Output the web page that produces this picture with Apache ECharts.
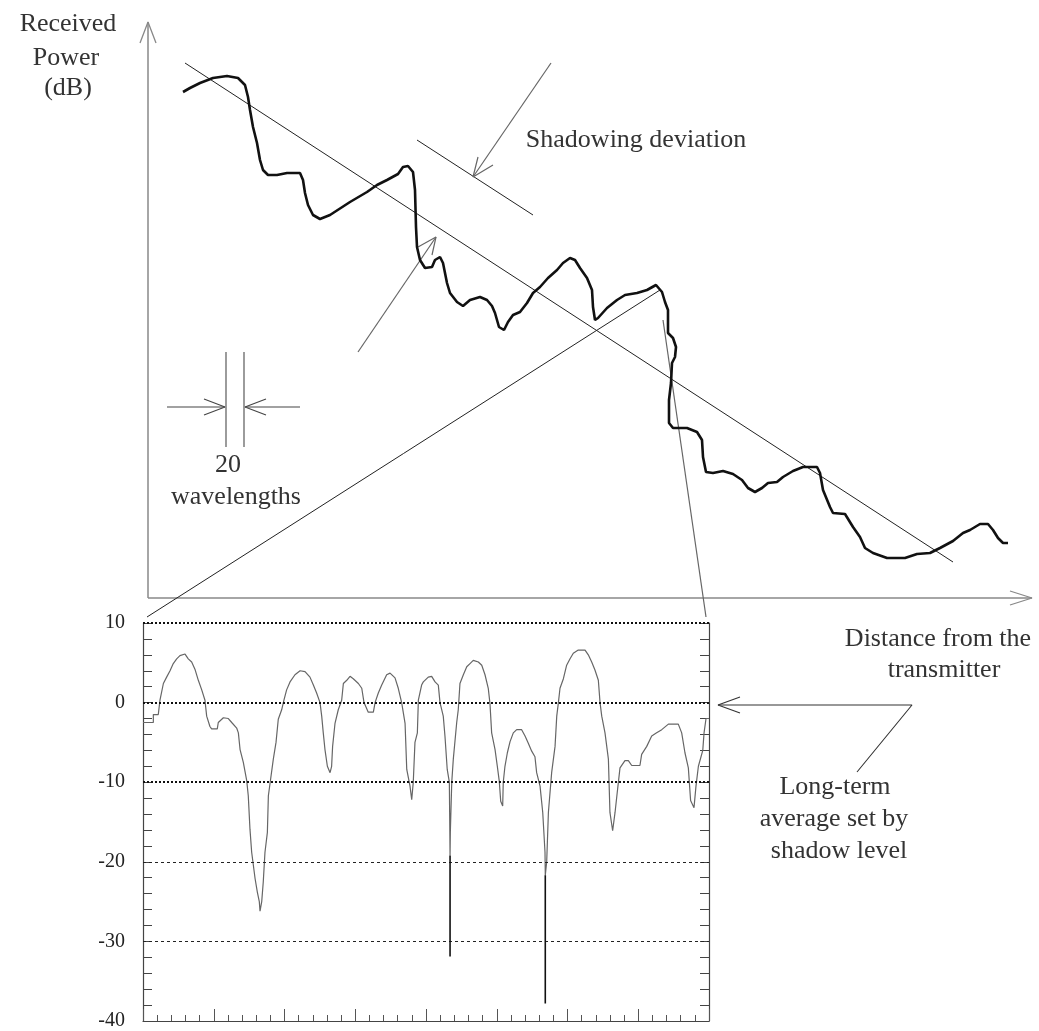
<!DOCTYPE html>
<html>
<head>
<meta charset="utf-8">
<script src="https://cdn.jsdelivr.net/npm/echarts@6/dist/echarts.min.js"></script>
<style>html,body{margin:0;padding:0;background:#fff}#c{width:1039px;height:1031px}</style>
</head>
<body>
<div id="c"></div>
<script>
// ---------- DATA ----------
// Upper sketch: distance (arbitrary units) vs received power (arbitrary dB units)
const upperCurve = [[3.5,50.6],[4.2,51.0],[5.2,51.5],[6.5,52.0],[7.9,52.2],[9.0,52.0],[9.7,51.3],[10.0,50.1],[10.2,48.8],[10.5,47.1],[10.9,45.5],[11.2,43.8],[11.5,42.8],[12.0,42.3],[12.9,42.3],[13.9,42.5],[15.2,42.5],[15.5,41.8],[15.7,40.5],[16.0,39.3],[16.5,38.3],[17.2,37.9],[18.2,38.3],[20.2,39.6],[21.9,40.6],[22.9,41.3],[23.9,41.8],[25.0,42.4],[25.5,43.1],[26.0,43.2],[26.5,42.6],[26.7,40.8],[26.8,37.1],[26.9,35.1],[27.2,33.8],[27.7,33.0],[28.4,33.1],[28.7,33.8],[29.2,34.1],[29.5,33.5],[29.9,31.5],[30.2,30.5],[30.9,29.6],[31.5,29.2],[32.2,29.8],[33.2,30.1],[33.9,29.8],[34.4,29.2],[34.7,28.5],[35.1,27.1],[35.6,26.8],[36.0,27.6],[36.5,28.3],[37.2,28.6],[37.9,29.5],[38.5,30.5],[39.2,31.1],[40.0,32.0],[40.9,32.8],[41.5,33.5],[42.2,34.0],[42.7,33.8],[43.2,33.0],[43.9,32.0],[44.4,30.8],[44.5,29.1],[44.7,27.8],[45.0,28.0],[45.9,29.0],[46.9,29.8],[47.7,30.3],[48.9,30.5],[49.9,30.8],[50.8,31.3],[51.4,30.6],[51.7,29.6],[52.0,28.8],[52.0,26.5],[52.5,26.0],[52.8,25.1],[52.7,24.1],[52.4,23.5],[52.3,21.5],[52.1,19.8],[52.1,17.5],[52.5,17.0],[53.9,17.0],[54.9,16.6],[55.4,15.8],[55.5,14.1],[55.8,12.6],[56.5,12.5],[57.5,12.7],[58.5,12.4],[59.4,11.8],[60.0,11.0],[60.7,10.6],[61.4,11.0],[62.0,11.5],[62.9,11.6],[63.5,12.1],[64.5,12.7],[65.5,13.1],[66.9,13.1],[67.2,12.5],[67.5,10.8],[68.2,9.1],[68.5,8.5],[69.7,8.4],[70.5,7.1],[71.2,6.1],[71.7,5.0],[72.5,4.5],[73.9,4.0],[75.7,4.0],[76.9,4.4],[78.2,4.5],[79.2,5.0],[80.5,5.7],[81.5,6.5],[82.2,6.8],[83.2,7.4],[84.0,7.4],[84.5,6.8],[85.0,6.0],[85.5,5.5],[86.0,5.5]];
const trendLine = [[3.7,53.5],[80.5,3.6]];
const deviationLine = [[26.9,45.8],[38.5,38.3]];
const deviationArrow = [[40.3,53.5],[32.5,42.1]];
const deviationArrowHead = [[33.0,44.1],[32.5,42.1],[34.5,43.3]];
const curveArrow = [[21.0,24.6],[28.8,36.1]];
const curveArrowHead = [[27.0,35.1],[28.8,36.1],[28.4,34.3]];
const yAxisArrow = [[0,0],[0,57.6]];
const yAxisArrowHead = [[-0.8,55.5],[0,57.6],[0.8,55.5]];
const xAxisArrow = [[0,0],[88.4,0]];
const xAxisArrowHead = [[86.2,0.7],[88.4,0],[86.2,-0.7]];
const waveBarLeft = [[7.8,24.6],[7.8,15.1]];
const waveBarRight = [[9.6,24.6],[9.6,15.1]];
const waveArrowLeft = [[1.9,19.1],[7.7,19.1]];
const waveArrowLeftHead = [[5.6,19.9],[7.7,19.1],[5.6,18.3]];
const waveArrowRight = [[15.2,19.1],[9.7,19.1]];
const waveArrowRightHead = [[11.8,19.9],[9.7,19.1],[11.8,18.3]];
const zoomLineLeft = [[-0.1,-1.9],[51.2,30.8]];
const zoomLineRight = [[51.5,27.8],[55.8,-1.9]];
// arrow pointing at the lower chart's 0 dB level (same sketch units)
const longTermArrow = [[57.0,-10.7],[76.4,-10.7],[70.9,-17.4]];
const longTermArrowHead = [[59.2,-9.9],[57.0,-10.7],[59.2,-11.5]];

// Lower chart: distance (minor-tick units) vs shadowing level (dB)
const lowerCurve = [[0,-2.5],[0.73,-2.5],[0.73,-1.5],[1.08,-1.5],[1.2,0.3],[1.44,2.4],[1.67,3.2],[1.91,4.0],[2.14,4.9],[2.38,5.5],[2.61,5.9],[2.97,6.1],[3.2,5.5],[3.44,5.1],[3.67,4.2],[3.91,2.8],[4.15,1.6],[4.38,0.3],[4.5,-1.7],[4.73,-3.0],[4.85,-3.3],[5.25,-3.3],[5.32,-2.5],[5.68,-1.9],[6.03,-2.0],[6.27,-2.5],[6.62,-3.2],[6.74,-3.8],[6.86,-5.9],[7.09,-7.5],[7.33,-9.8],[7.44,-11.7],[7.56,-15.9],[7.68,-18.8],[7.92,-22.1],[8.08,-23.8],[8.22,-25.0],[8.27,-26.2],[8.39,-25.0],[8.5,-22.5],[8.62,-18.8],[8.79,-16.3],[8.86,-11.7],[9.02,-9.6],[9.21,-7.1],[9.4,-5.0],[9.56,-2.1],[9.8,-0.9],[9.96,0.3],[10.15,1.6],[10.39,2.6],[10.74,3.5],[11.1,4.0],[11.45,3.9],[11.8,3.2],[12.04,2.2],[12.27,1.2],[12.51,0],[12.63,-1.7],[12.74,-3.8],[12.86,-5.9],[13.03,-8.0],[13.22,-8.8],[13.33,-8.0],[13.4,-5.5],[13.57,-2.6],[13.8,-0.9],[14.04,0.3],[14.16,2.4],[14.4,2.8],[14.63,3.3],[14.86,3.0],[15.22,2.4],[15.46,1.8],[15.62,0],[15.92,-1.2],[16.28,-1.2],[16.4,0],[16.63,1.2],[16.87,2.2],[17.22,3.5],[17.46,3.7],[17.81,3.1],[18.04,1.8],[18.28,0],[18.52,-2.6],[18.64,-8.4],[18.87,-10.5],[18.99,-12.2],[19.1,-10.0],[19.22,-5.0],[19.39,-3.8],[19.46,0.3],[19.69,2.2],[19.81,2.6],[20.16,3.2],[20.4,3.3],[20.64,2.6],[20.87,2.2],[20.99,0],[21.22,-1.7],[21.34,-4.2],[21.5,-8.4],[21.65,-10.0],[21.7,-19.2],[21.72,-16.3],[21.82,-10.0],[21.93,-7.1],[22.17,-2.5],[22.28,-0.9],[22.4,2.4],[22.64,3.5],[22.88,4.5],[23.11,4.9],[23.34,5.3],[23.7,5.1],[23.94,4.7],[24.17,3.5],[24.4,1.8],[24.52,-0.1],[24.64,-3.8],[24.88,-5.9],[25.04,-8.0],[25.18,-9.9],[25.28,-12.4],[25.42,-13.0],[25.46,-10.0],[25.58,-8.0],[25.75,-6.3],[25.94,-4.9],[26.17,-3.8],[26.41,-3.4],[26.76,-3.4],[27.0,-4.2],[27.23,-5.1],[27.47,-6.1],[27.7,-6.8],[27.82,-8.8],[28.06,-10.5],[28.25,-13.8],[28.41,-18.8],[28.43,-21.7],[28.53,-20.0],[28.65,-13.8],[28.88,-8.8],[29.12,-5.5],[29.24,-1.7],[29.35,-0.1],[29.47,1.8],[29.71,3.0],[29.94,4.7],[30.18,5.5],[30.41,6.2],[30.76,6.6],[31.24,6.6],[31.47,6.0],[31.71,5.1],[31.94,4.1],[32.18,2.8],[32.3,0],[32.42,-1.7],[32.65,-3.8],[32.89,-7.1],[33.0,-13.8],[33.19,-16.1],[33.36,-13.8],[33.52,-11.2],[33.71,-8.2],[34.06,-7.3],[34.3,-7.3],[34.54,-7.9],[35.12,-7.9],[35.24,-6.5],[35.6,-5.5],[35.95,-4.2],[36.3,-3.8],[36.66,-3.4],[37.13,-2.7],[37.83,-2.7],[38.07,-3.8],[38.3,-6.3],[38.54,-8.2],[38.7,-12.3],[38.94,-13.2],[39.08,-10.5],[39.25,-8.0],[39.56,-6.0],[39.65,-3.8],[39.79,-2.0],[40,-2.0]];
const fadeSpikeA = [[21.7,-19.2],[21.7,-31.9]];
const fadeSpikeB = [[28.43,-21.7],[28.43,-37.8]];
const heavyGridLevels = [10, 0, -10];
const lightGridLevels = [-20, -30];
const yTickLabels = [10, 0, -10, -20, -30, -40];

// ---------- CHART ----------
const chart = echarts.init(document.getElementById('c'), null, {renderer: 'canvas'});
const SERIF = 'Liberation Serif';

function poly(data, color, width, gridIdx, z) {
  return {
    type: 'line', data: data, xAxisIndex: gridIdx, yAxisIndex: gridIdx,
    showSymbol: false, symbol: 'none', clip: false, silent: true, animation: false,
    lineStyle: {color: color, width: width}, z: z || 3
  };
}

function txt(text, x, y) {
  return {type: 'text', x: x, y: y, silent: true,
    style: {text: text, fontSize: 26, fontFamily: SERIF, fill: '#333',
      align: 'center', verticalAlign: 'middle', textAlign: 'center', textVerticalAlign: 'middle'}};
}

const markData = heavyGridLevels.map(v => ({yAxis: v, lineStyle: {type: [2, 2], width: 2, color: '#111'}}))
  .concat(lightGridLevels.map(v => ({yAxis: v, lineStyle: {type: [3, 3], width: 1, color: '#222'}})));

const option = {
  animation: false,
  backgroundColor: '#fff',
  grid: [
    // sketch area: x -2..88.4, y -20..57.6 (10 px per unit)
    {left: 128, top: 22, width: 904, height: 776},
    {left: 143, top: 623, width: 566, height: 400}
  ],
  xAxis: [
    {gridIndex: 0, type: 'value', min: -2, max: 88.4, show: false},
    {gridIndex: 1, type: 'value', min: 0, max: 40, interval: 5,
      axisLine: {show: true, onZero: false, lineStyle: {color: '#444', width: 1.2}},
      axisTick: {show: true, inside: true, length: 12, lineStyle: {color: '#555', width: 1}},
      minorTick: {show: true, splitNumber: 5, length: 6, lineStyle: {color: '#555', width: 1}},
      axisLabel: {show: false}, splitLine: {show: false}}
  ],
  yAxis: [
    {gridIndex: 0, type: 'value', min: -20, max: 57.6, show: false},
    {gridIndex: 1, type: 'value', min: -40, max: 10, interval: 10, position: 'left',
      axisLine: {show: true, onZero: false, lineStyle: {color: '#444', width: 1.2}},
      axisTick: {show: true, inside: true, length: 9, lineStyle: {color: '#444', width: 1}},
      minorTick: {show: true, splitNumber: 5, length: 9, lineStyle: {color: '#444', width: 1}},
      axisLabel: {show: true, margin: 18, fontSize: 20, fontFamily: SERIF, color: '#222',
        formatter: v => yTickLabels.indexOf(v) >= 0 ? String(v) : ''},
      splitLine: {show: false}},
    {gridIndex: 1, type: 'value', min: -40, max: 10, interval: 10, position: 'right',
      axisLine: {show: true, onZero: false, lineStyle: {color: '#444', width: 1.2}},
      axisTick: {show: true, inside: true, length: 9, lineStyle: {color: '#444', width: 1}},
      minorTick: {show: true, splitNumber: 5, length: 9, lineStyle: {color: '#444', width: 1}},
      axisLabel: {show: false}, splitLine: {show: false}}
  ],
  series: [
    // upper sketch axes
    poly(yAxisArrow, '#888', 1.5, 0), poly(yAxisArrowHead, '#888', 1.3, 0),
    poly(xAxisArrow, '#888', 1.5, 0), poly(xAxisArrowHead, '#888', 1.3, 0),
    // trend + deviation lines
    poly(trendLine, '#222', 1, 0), poly(deviationLine, '#222', 1, 0),
    poly(deviationArrow, '#666', 1.2, 0), poly(deviationArrowHead, '#666', 1.2, 0),
    poly(curveArrow, '#666', 1.2, 0), poly(curveArrowHead, '#666', 1.2, 0),
    // 20 wavelengths marker
    poly(waveBarLeft, '#666', 1.3, 0), poly(waveBarRight, '#666', 1.3, 0),
    poly(waveArrowLeft, '#444', 1.1, 0), poly(waveArrowLeftHead, '#444', 1.1, 0),
    poly(waveArrowRight, '#444', 1.1, 0), poly(waveArrowRightHead, '#444', 1.1, 0),
    // zoom lines to lower chart
    poly(zoomLineLeft, '#222', 1, 0), poly(zoomLineRight, '#666', 1.2, 0),
    // long-term average arrow
    poly(longTermArrow, '#333', 1.1, 0), poly(longTermArrowHead, '#333', 1.1, 0),
    // upper received power curve
    poly(upperCurve, '#111', 2.6, 0, 5),
    // lower chart curve with grid lines
    Object.assign(poly(lowerCurve, '#666', 1.2, 1, 4), {
      yAxisIndex: 1,
      markLine: {silent: true, symbol: ['none', 'none'], label: {show: false}, animation: false, data: markData}
    }),
    Object.assign(poly(fadeSpikeA, '#111', 1.6, 1, 5), {yAxisIndex: 1}),
    Object.assign(poly(fadeSpikeB, '#111', 1.6, 1, 5), {yAxisIndex: 1})
  ],
  graphic: [
    txt('Received', 68, 24), txt('Power', 66, 58), txt('(dB)', 68, 88),
    txt('Shadowing deviation', 636, 140),
    txt('20', 228, 465), txt('wavelengths', 236, 497),
    txt('Distance from the', 938, 639), txt('transmitter', 944, 670),
    txt('Long-term', 835, 787), txt('average set by', 834, 819), txt('shadow level', 839, 851)
  ]
};
chart.setOption(option);
</script>
</body>
</html>
